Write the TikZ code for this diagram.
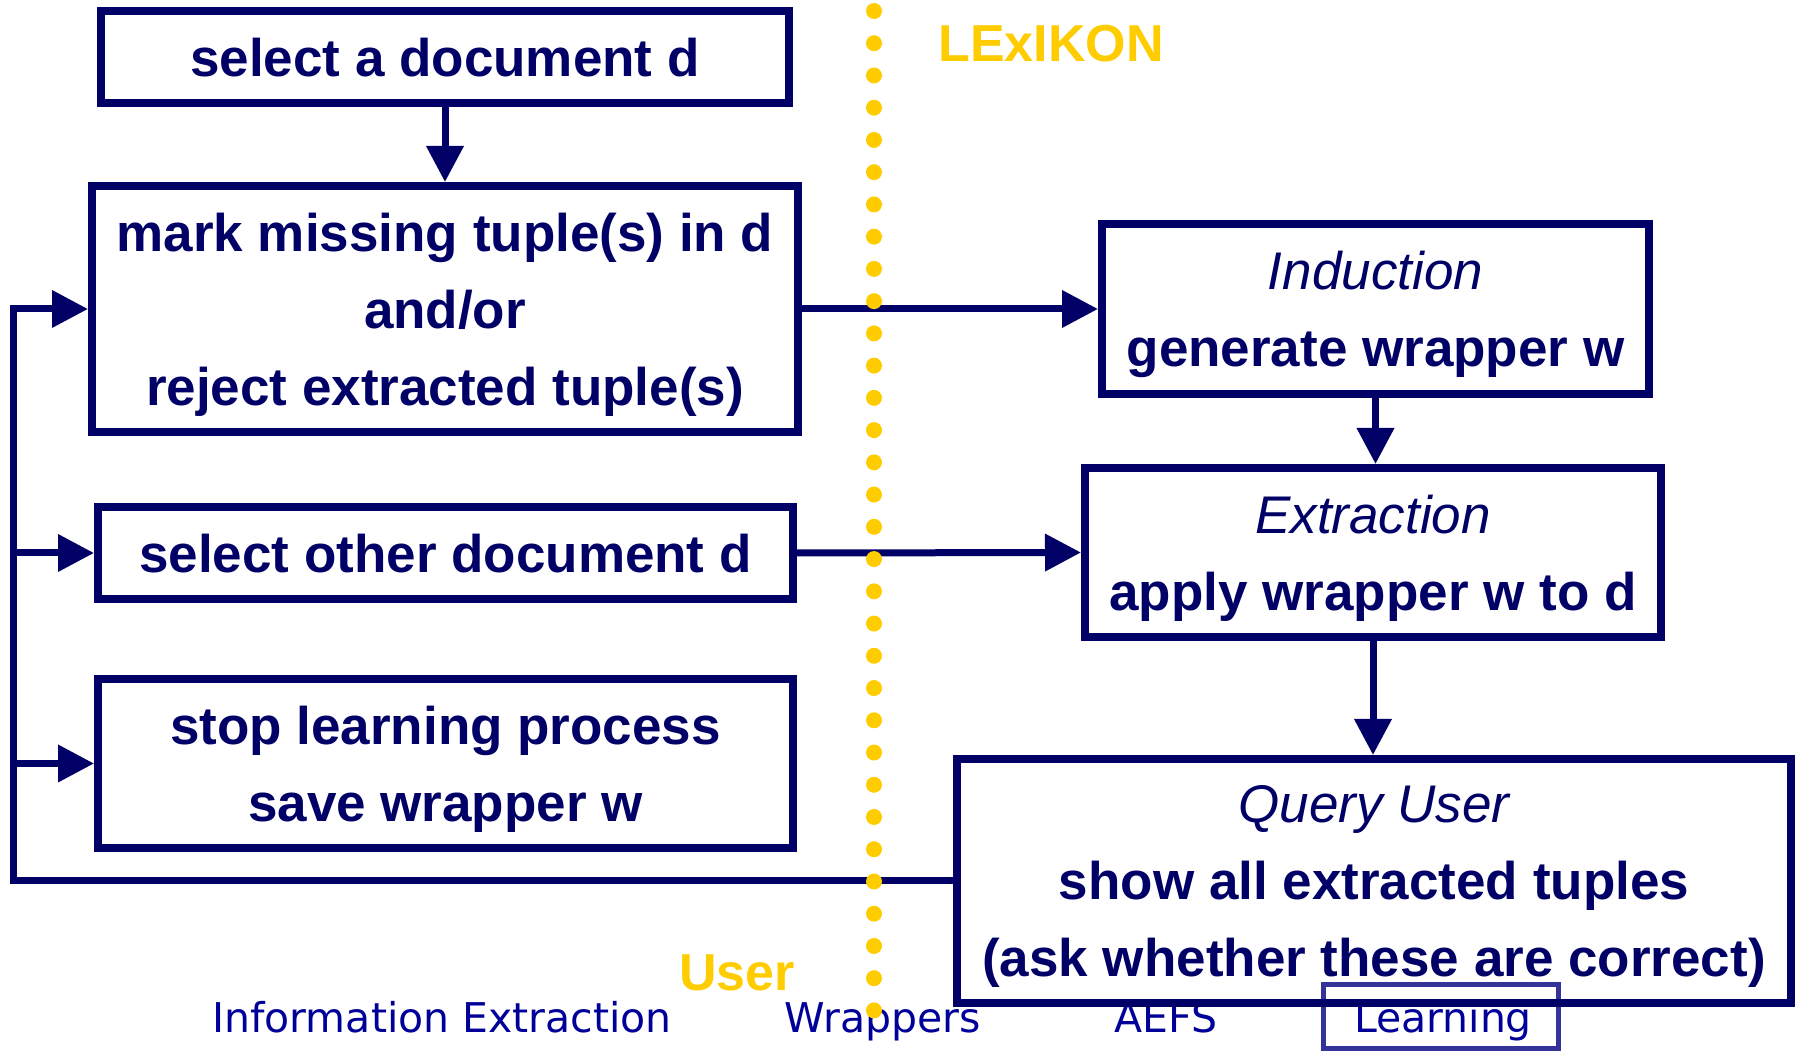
\documentclass[tikz,border=0pt]{standalone}
\usepackage{fontspec}
\setmainfont{Liberation Sans}
\newfontfamily\navfont{DejaVu Sans}
\usetikzlibrary{arrows.meta}

\definecolor{navy}{RGB}{0,0,102}
\definecolor{gold}{RGB}{255,204,0}
\definecolor{navtext}{RGB}{0,0,153}
\definecolor{navbox}{RGB}{51,51,153}

\begin{document}
\begin{tikzpicture}
[x=0.5pt, y=-0.5pt,
every node/.style = {inner sep=0pt},
box/.style = {draw=navy, line width=4pt, text=navy, align=center, text depth=-2pt,
  font=\bfseries\fontsize{26.5}{38.5}\selectfont},
arr/.style = {draw=navy, line width=3.5pt, -{Triangle[length=18pt,width=18pt]}},
tag/.style = {text=gold, font=\bfseries\fontsize{26}{30}\selectfont, anchor=base},
nav/.style = {text=navtext, font=\navfont\fontsize{20.5}{24}\selectfont, anchor=base}]
\useasboundingbox (0,0) rectangle (1796,1052);

% navigation bar
\node[nav] (navie) at (442,1033) {Information Extraction};
\node[nav] (navwr) at (883,1033) {Wrappers};
\node[nav] (navae) at (1166,1033) {AEFS};
\node[nav] (navle) at (1443,1033) {Learning};
\draw[navbox, line width=2.5pt] (1323,985) rectangle (1558,1049);

% user side
\node[box, minimum width=344pt, minimum height=46pt] (seldoc) at (445,57) {select a document d};
\node[box, minimum width=353pt, minimum height=123pt] (mark) at (445,309)
  {mark missing tuple(s) in d\\and/or\\reject extracted tuple(s)};
\node[box, minimum width=347.5pt, minimum height=46pt] (other) at (445.5,553) {select other document d};
\node[box, minimum width=347.5pt, minimum height=84.5pt] (stop) at (445.5,763.5)
  {stop learning process\\save wrapper w};

% system side
\node[box, minimum width=273.5pt, minimum height=85pt] (induct) at (1375.5,309)
  {{\mdseries\itshape Induction}\\generate wrapper w};
\node[box, minimum width=288pt, minimum height=84.5pt] (extract) at (1373,552.5)
  {{\mdseries\itshape Extraction}\\apply wrapper w to d};
\node[box, minimum width=417pt, minimum height=122pt] (query) at (1374,881)
  {{\mdseries\itshape Query User}\\show all extracted tuples\\(ask whether these are correct)};

\draw[arr] (seldoc) -- (mark);
\draw[arr] (mark.east) -- (induct.west);
\draw[arr] (other.east) -- (extract.west);
\draw[arr] (induct.south) -- (induct.south |- extract.north);
\draw[arr] (extract.south) -- (extract.south |- query.north);

% feedback loop
\coordinate (fb) at (13,0);
\draw[arr] (query.west) -| (fb |- mark.west) -- (mark.west);
\draw[arr] (fb |- other.west) -- (other.west);
\draw[arr] (fb |- stop.west) -- (stop.west);

\node[tag] (lexikon) at (1051,62) {LExIKON};
\node[tag] (user) at (737,991) {User};

% separator
\draw[gold, line width=8pt, line cap=round, dash pattern=on 0pt off 16.12pt] (874,11) -- (874,1011);

\end{tikzpicture}
\end{document}
